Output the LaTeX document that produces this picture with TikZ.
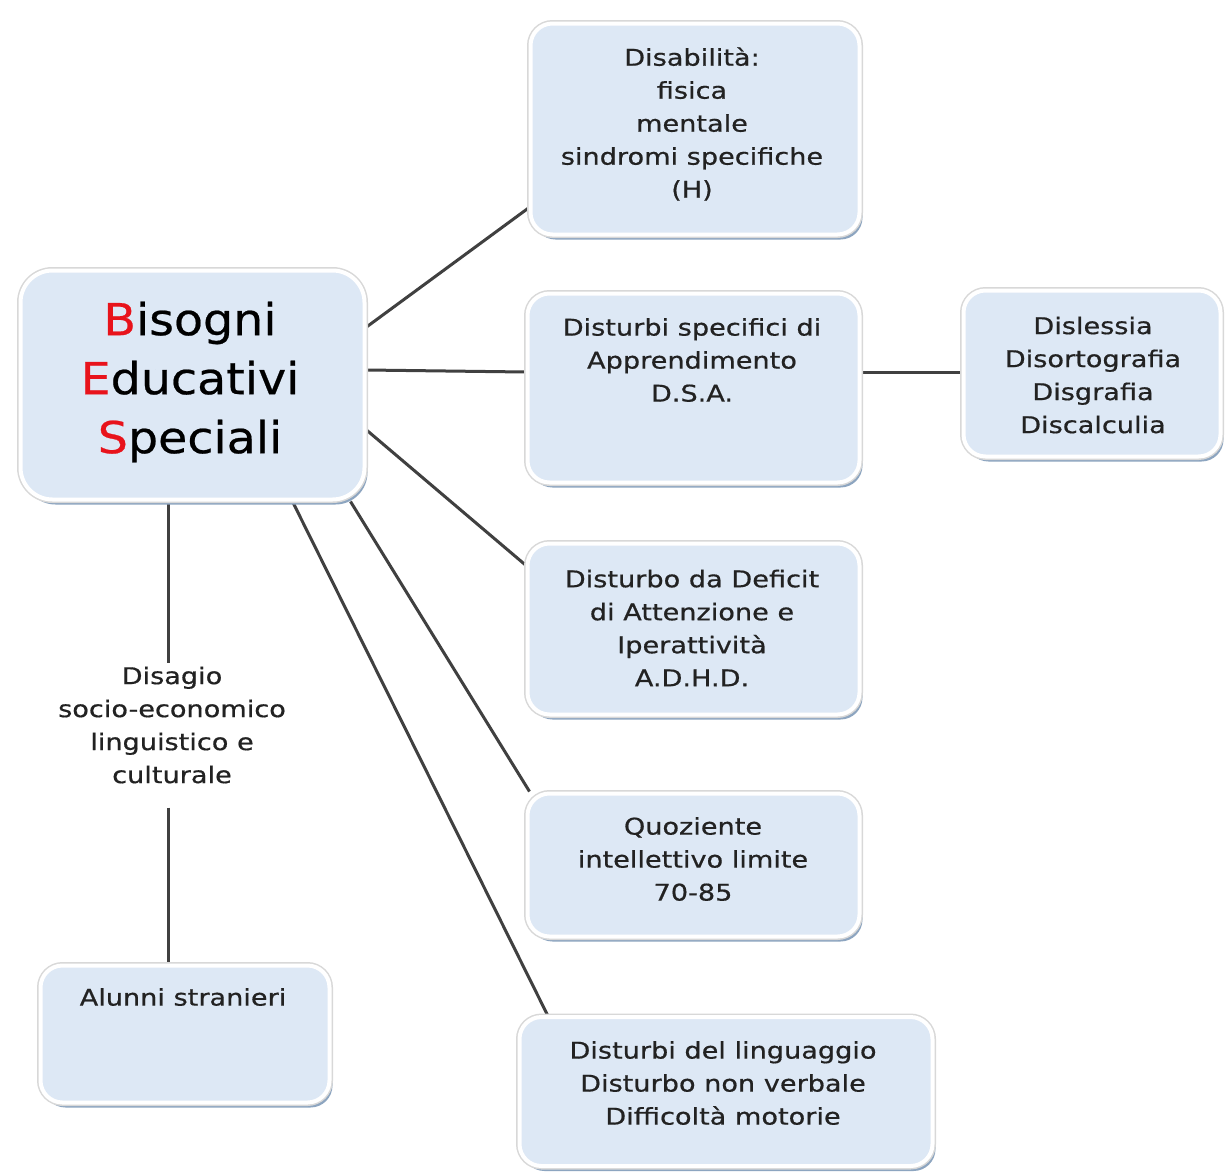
\documentclass[tikz,border=0pt]{standalone}
\usepackage{fontspec}
\setmainfont[FakeStretch=1.18,FakeBold=0.6]{DejaVu Sans}
\newfontfamily\besfont[FakeStretch=1.08,FakeBold=0.5]{DejaVu Sans}
\usetikzlibrary{shadows}
\definecolor{boxfill}{HTML}{DDE8F5}
\definecolor{shadowc}{HTML}{8DA5C0}
\definecolor{edgec}{HTML}{D8D8D8}
\definecolor{linec}{HTML}{404040}
\definecolor{txtc}{HTML}{222222}
\definecolor{besred}{HTML}{E8131B}
\pgfdeclarelayer{bg}
\pgfdeclarelayer{paper}
\pgfsetlayers{paper,bg,main}
\tikzset{
  box/.style={rounded corners=22pt, fill=boxfill, draw=white, line width=4pt,
    inner sep=0pt,
    drop shadow={shadow xshift=3pt, shadow yshift=-5pt, fill=shadowc, opacity=1},
    preaction={draw=edgec, line width=7pt}},
  bigbox/.style={box, rounded corners=32pt},
  txt/.style={align=center, text=txtc, inner sep=0pt, font=\fontsize{23}{33}\selectfont},
  bestxt/.style={align=center, text=black, inner sep=0pt, font=\besfont\fontsize{44}{59}\selectfont},
  conn/.style={draw=linec, line width=3pt}
}
\begin{document}
\begin{tikzpicture}[x=1pt,y=-1pt]
\begin{pgfonlayer}{paper}
\fill[white] (0,0) rectangle (1228,1175);
\end{pgfonlayer}
\useasboundingbox (0,0) rectangle (1228,1175);
% boxes
\node[bigbox, minimum width=344pt, minimum height=229pt] (bes) at (192.5,385) {};
\node[box, minimum width=329pt, minimum height=211pt] (dis) at (695,129) {};
\node[box, minimum width=332pt, minimum height=189pt] (dsa) at (693.5,388) {};
\node[box, minimum width=257pt, minimum height=166pt] (disl) at (1092,373.5) {};
\node[box, minimum width=332pt, minimum height=171pt] (adhd) at (693.5,629) {};
\node[box, minimum width=332pt, minimum height=143pt] (qi) at (693.5,865) {};
\node[box, minimum width=289pt, minimum height=137pt] (alu) at (185,1034) {};
\node[box, minimum width=413pt, minimum height=149pt] (lin) at (726,1091.5) {};
% texts
\node[bestxt] (besT) at (190,382) {{\color{besred}B}isogni\\{\color{besred}E}ducativi\\{\color{besred}S}peciali};
\node[txt] (disT) at (692,124) {Disabilità:\\fisica\\mentale\\sindromi specifiche\\(H)};
\node[txt] (dsaT) at (692,360) {Disturbi specifici di\\Apprendimento\\D.S.A.};
\node[txt] (dislT) at (1093,375) {Dislessia\\Disortografia\\Disgrafia\\Discalculia};
\node[txt] (adhdT) at (692,628) {Disturbo da Deficit\\di Attenzione e\\Iperattività\\A.D.H.D.};
\node[txt] (qiT) at (693,859) {Quoziente\\intellettivo limite\\70-85};
\node[txt] (linT) at (723,1083) {Disturbi del linguaggio\\Disturbo non verbale\\Difficoltà motorie};
\node[txt] (aluT) at (183,997) {Alunni stranieri};
\node[txt] (dsg) at (172,725) {Disagio\\socio-economico\\linguistico e\\culturale};
% connectors
\coordinate (c1) at ([xshift=-24pt]bes.south);
\begin{pgfonlayer}{bg}
\draw[conn] ([yshift=58pt]bes.east) -- ([yshift=-79pt]dis.west);
\draw[conn] ([yshift=15pt]bes.east) -- ([yshift=16pt]dsa.west);
\draw[conn] ([yshift=16pt]dsa.east) -- ([yshift=1.5pt]disl.west);
\draw[conn] ([yshift=-45pt]bes.east) -- ([yshift=64pt]adhd.west);
\draw[conn] ([xshift=158pt]bes.south) -- ([xshift=4pt]qi.north west);
\draw[conn] ([xshift=100pt]bes.south) -- ([xshift=30pt]lin.north west);
\draw[conn, shorten >=3pt] (c1) -- (c1 |- dsg.north);
\draw[conn, shorten <=24pt] (c1 |- dsg.south) -- (c1 |- alu.north);
\end{pgfonlayer}
\end{tikzpicture}
\end{document}
